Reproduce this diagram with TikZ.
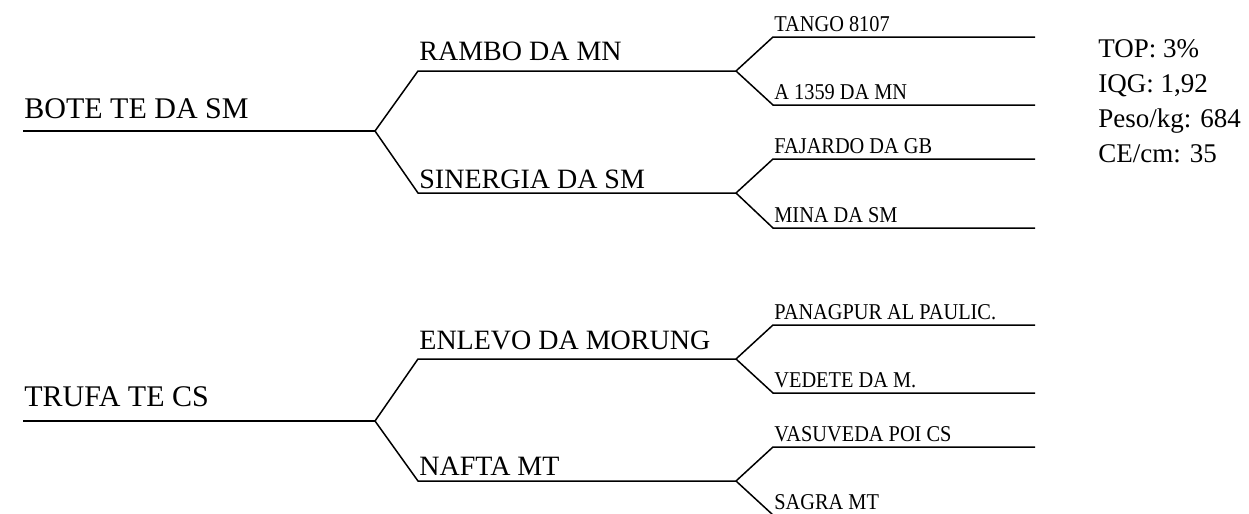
\documentclass[tikz,border=0pt]{standalone}
\usepackage{fontspec}
\setmainfont{Liberation Serif}
\newfontfamily\narrowfont[FakeStretch=0.9]{Liberation Serif}
\tikzset{
  ln/.style={line width=0.75pt, line join=miter},
  lb_root/.style={
    anchor=base west, inner sep=0pt,
    font=\fontsize{15}{18}\selectfont},
  lb_sire/.style={
    anchor=base west, inner sep=0pt,
    font=\fontsize{14}{17}\selectfont},
  lb_gsire/.style={
    anchor=base west, inner sep=0pt,
    font=\narrowfont\fontsize{11.3}{13}\selectfont},
  lb_info/.style={
    anchor=base west, inner sep=0pt,
    font=\fontsize{13.5}{17.5}\selectfont},
}

\begin{document}
\begin{tikzpicture}[x=0.5pt,y=-0.5pt]

\useasboundingbox (0,0) rectangle (1249,514);
\clip (0,0) rectangle (1249,514);

\def\xR{23}\def\xF{375}\def\xS{418}\def\xG{736}\def\xH{773}\def\xE{1035}

%% Top tree
\coordinate (T0) at (\xR,131);  \coordinate (TF) at (\xF,131);
\coordinate (TA) at (\xS,71);   \coordinate (TAe) at (\xG,71);
\coordinate (TB) at (\xS,193);  \coordinate (TBe) at (\xG,193);
\node[lb_root] (BOTE)  at (24,118)  {BOTE TE DA SM};
\node[lb_sire] (RAMBO) at (419,61)  {RAMBO DA MN};
\node[lb_sire] (SINER) at (419,188) {SINERGIA DA SM};

%% Bottom tree
\coordinate (B0) at (\xR,421);  \coordinate (BF) at (\xF,421);
\coordinate (BA) at (\xS,359);  \coordinate (BAe) at (\xG,359);
\coordinate (BB) at (\xS,481);  \coordinate (BBe) at (\xG,481);
\node[lb_root] (TRUFA)  at (24,406)  {TRUFA TE CS};
\node[lb_sire] (ENLEVO) at (419,349) {ENLEVO DA MORUNG};
\node[lb_sire] (NAFTA)  at (419,475) {NAFTA MT};

\draw[ln] (T0)--(TF);
\draw[ln] (TF)--(TA)--(TAe);
\draw[ln] (TF)--(TB)--(TBe);
\draw[ln] (B0)--(BF);
\draw[ln] (BF)--(BA)--(BAe);
\draw[ln] (BF)--(BB)--(BBe);

%% Grandsires
\foreach \f/\y/\n/\t in {TAe/37/TA1/TANGO 8107, TAe/105/TA2/A 1359 DA MN,
    TBe/159/TB1/FAJARDO DA GB, TBe/228/TB2/MINA DA SM,
    BAe/325/BA1/PANAGPUR AL PAULIC., BAe/393/BA2/VEDETE DA M.,
    BBe/447/BB1/VASUVEDA POI CS, BBe/515/BB2/SAGRA MT}
  {\coordinate (\n) at (\xH,\y); \coordinate (\n-e) at (\xE,\y);
   \node[lb_gsire] (\n-l) at (\xH+1,\y-5.5) {\t};
   \draw[ln] (\f)--(\n)--(\n-e);}

%% Info
\node[lb_info] (TOP)  at (1098,57)  {TOP: 3\%};
\node[lb_info] (IQG)  at (1098,92)  {IQG: 1,92};
\node[lb_info] (PESO) at (1098,127) {Peso/kg: 684};
\node[lb_info] (CE)   at (1098,162) {CE/cm: 35};

\end{tikzpicture}
\end{document}
